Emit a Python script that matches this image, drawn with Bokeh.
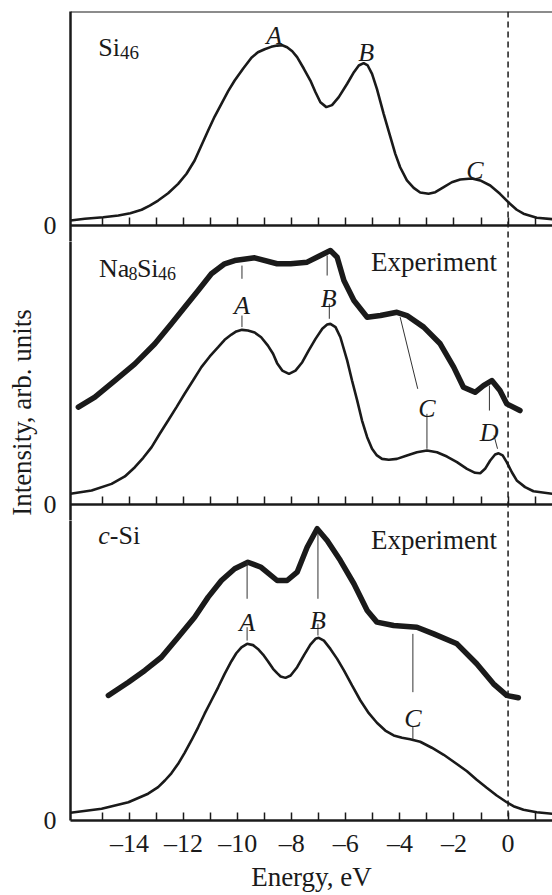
import math
from bokeh.plotting import figure
from bokeh.layouts import column, row
from bokeh.models import Range1d, FixedTicker, Span, Label, LinearAxis
from bokeh.embed import file_html
from bokeh.resources import INLINE
from bokeh.core.properties import value

# ---------------- data (energy in eV, intensity in arb. units) ----------------
si46_calc_E = [-16.18, -15.65, -14.97, -14.41, -13.97, -13.55, -13.25, -12.94, -12.57, -12.20,
               -11.89, -11.59, -11.34, -11.09, -10.85, -10.60, -10.35, -10.11, -9.80, -9.49,
               -9.25, -9.00, -8.76, -8.54, -8.35, -8.17, -7.98, -7.80, -7.55, -7.31, -7.12,
               -6.94, -6.72, -6.51, -6.26, -5.95, -5.70, -5.52, -5.34, -5.19, -5.03, -4.85,
               -4.60, -4.35, -4.17, -3.99, -3.74, -3.49, -3.25, -2.94, -2.69, -2.38, -2.08,
               -1.77, -1.34, -1.03, -0.66, -0.30, 0.07, 0.32, 0.57, 1.06, 1.65]
si46_calc_I = [0.028, 0.037, 0.046, 0.055, 0.068, 0.087, 0.110, 0.138, 0.178, 0.230,
               0.286, 0.359, 0.442, 0.525, 0.602, 0.672, 0.742, 0.801, 0.866, 0.927,
               0.957, 0.974, 0.987, 0.994, 0.996, 0.985, 0.963, 0.930, 0.866, 0.801, 0.736,
               0.681, 0.654, 0.665, 0.709, 0.783, 0.847, 0.884, 0.897, 0.884, 0.838, 0.755,
               0.617, 0.488, 0.396, 0.322, 0.249, 0.208, 0.182, 0.175, 0.184, 0.212, 0.239,
               0.254, 0.260, 0.249, 0.221, 0.175, 0.120, 0.087, 0.065, 0.043, 0.035]

na_calc_E = [-16.18, -15.40, -14.66, -14.17, -13.80, -13.49, -13.18, -12.88, -12.57, -12.26,
             -11.96, -11.65, -11.34, -11.03, -10.72, -10.48, -10.23, -10.05, -9.84, -9.62,
             -9.37, -9.13, -8.88, -8.69, -8.54, -8.35, -8.10, -7.86, -7.61, -7.37, -7.12,
             -6.87, -6.69, -6.57, -6.38, -6.20, -5.95, -5.77, -5.58, -5.40, -5.21, -5.03,
             -4.85, -4.66, -4.41, -4.11, -3.74, -3.37, -3.00, -2.63, -2.26, -1.89, -1.52,
             -1.22, -1.03, -0.85, -0.66, -0.48, -0.35, -0.20, -0.05, 0.14, 0.32, 0.63,
             0.94, 1.65]
na_calc_I = [0.059, 0.077, 0.114, 0.155, 0.206, 0.258, 0.317, 0.391, 0.464, 0.538,
             0.612, 0.685, 0.759, 0.818, 0.869, 0.910, 0.939, 0.956, 0.965, 0.961,
             0.950, 0.924, 0.878, 0.833, 0.781, 0.740, 0.722, 0.740, 0.786, 0.851, 0.915,
             0.971, 0.994, 0.998, 0.980, 0.924, 0.796, 0.685, 0.575, 0.464, 0.372, 0.308,
             0.271, 0.252, 0.247, 0.252, 0.271, 0.289, 0.298, 0.289, 0.265, 0.234, 0.197,
             0.175, 0.173, 0.197, 0.243, 0.276, 0.283, 0.271, 0.234, 0.178, 0.133, 0.096,
             0.073, 0.059]
na_exp_E = [-15.89, -15.28, -14.54, -13.80, -13.06, -12.45, -11.96, -11.46, -10.97, -10.48,
            -10.11, -9.37, -8.54, -8.04, -7.43, -6.94, -6.57, -6.32, -6.07, -5.70, -5.21,
            -4.72, -4.11, -3.74, -3.12, -2.51, -2.01, -1.65, -1.22, -0.91, -0.60, -0.30,
            -0.05, 0.44]
na_exp_I = [0.538, 0.593, 0.685, 0.777, 0.888, 0.998, 1.090, 1.182, 1.275, 1.330,
            1.348, 1.363, 1.330, 1.330, 1.339, 1.376, 1.403, 1.366, 1.238, 1.127, 1.035,
            1.044, 1.062, 1.044, 0.980, 0.888, 0.759, 0.648, 0.620, 0.657, 0.685, 0.630,
            0.556, 0.519]

csi_calc_E = [-16.18, -15.03, -14.04, -13.31, -12.94, -12.69, -12.45, -12.20, -11.96, -11.71,
              -11.46, -11.22, -10.97, -10.72, -10.48, -10.23, -10.05, -9.86, -9.65, -9.43,
              -9.25, -9.06, -8.88, -8.69, -8.54, -8.41, -8.23, -8.04, -7.80, -7.55, -7.31,
              -7.12, -7.00, -6.81, -6.57, -6.32, -6.07, -5.77, -5.46, -5.15, -4.85, -4.54,
              -4.23, -3.92, -3.62, -3.25, -2.82, -2.38, -1.96, -1.52, -1.16, -0.79, -0.42,
              -0.05, 0.20, 0.57, 1.06, 1.65]
csi_calc_I = [0.043, 0.065, 0.101, 0.148, 0.184, 0.221, 0.261, 0.313, 0.374, 0.442,
              0.515, 0.590, 0.663, 0.736, 0.810, 0.880, 0.924, 0.957, 0.976, 0.969,
              0.948, 0.917, 0.880, 0.838, 0.814, 0.796, 0.788, 0.801, 0.847, 0.912, 0.972,
              1.004, 1.009, 0.994, 0.948, 0.893, 0.829, 0.746, 0.663, 0.593, 0.540, 0.497,
              0.470, 0.457, 0.449, 0.435, 0.402, 0.363, 0.319, 0.272, 0.225, 0.181, 0.138,
              0.101, 0.079, 0.059, 0.046, 0.037]
csi_exp_E = [-14.78, -14.04, -13.43, -12.82, -12.20, -11.59, -11.09, -10.60, -10.11, -9.62,
             -9.13, -8.54, -8.17, -7.80, -7.43, -7.06, -6.69, -6.20, -5.70, -5.21, -4.85,
             -4.23, -3.37, -2.75, -1.89, -1.16, -0.54, -0.05, 0.38]
csi_exp_I = [0.691, 0.764, 0.829, 0.902, 1.013, 1.123, 1.234, 1.326, 1.391, 1.427,
             1.399, 1.326, 1.326, 1.372, 1.510, 1.612, 1.547, 1.436, 1.308, 1.160, 1.096,
             1.077, 1.068, 1.031, 0.976, 0.866, 0.755, 0.691, 0.678]

# peak labels (letter, energy, baseline intensity) and leader lines
p1_peaks = ["A", "B", "C"]
p1_peak_E = [-8.65, -5.25, -1.23]
p1_peak_I = [1.050, 0.957, 0.305]

p2_peaks = ["A", "B", "C", "D"]
p2_peak_E = [-9.84, -6.63, -3.00, -0.70]
p2_peak_I = [1.099, 1.137, 0.529, 0.399]
p2_lead_E0 = [-9.84, -9.84, -6.69, -6.61, -3.99, -3.00, -0.69, -0.52]
p2_lead_I0 = [1.320, 1.044, 1.376, 1.109, 1.035, 0.501, 0.657, 0.381]
p2_lead_E1 = [-9.84, -9.84, -6.69, -6.61, -3.34, -3.00, -0.69, -0.39]
p2_lead_I1 = [1.247, 0.980, 1.265, 1.026, 0.639, 0.308, 0.519, 0.308]

p3_peaks = ["A", "B", "C"]
p3_peak_E = [-9.65, -7.03, -3.52]
p3_peak_I = [1.095, 1.105, 0.562]
p3_lead_E0 = [-9.65, -9.65, -7.03, -7.03, -3.52, -3.52]
p3_lead_I0 = [1.427, 1.068, 1.586, 1.087, 1.031, 0.521]
p3_lead_E1 = [-9.65, -9.65, -7.03, -7.03, -3.52, -3.52]
p3_lead_I1 = [1.225, 0.994, 1.225, 1.022, 0.709, 0.451]

x_major_ticks = [-14, -12, -10, -8, -6, -4, -2, 0]
x_minor_ticks = [-15, -13, -11, -9, -7, -5, -3, -1, 1]
x_all_ticks = [-15, -14, -13, -12, -11, -10, -9, -8, -7, -6, -5, -4, -3, -2, -1, 0, 1]
x_tick_labels = {t: ("\u2013" + str(-t) if t < 0 else str(t)) for t in x_major_ticks}
y_axis_title = "Intensity, arb. units"

# ---------------- layout constants (pixels) ----------------
SERIF = "Liberation Serif"
INK = "#1a1a1a"
U = 181.0                 # pixels per intensity unit
TOTAL_W = 552
TOTAL_H = 895
LABEL_W = 40              # strip holding the vertical axis title
W = TOTAL_W - LABEL_W
LEFT = 69 - LABEL_W
TOP = 11
BELOW0 = 16               # frame extends this far under the zero line (panels 1-2)
P1_H = 214                # frame height above zero, panel 1
P2_H = 279                # distance between zero lines of panels 1 and 2
P3_H = 316                # distance between zero lines of panels 2 and 3
BOTTOM3 = 75
X_RANGE = Range1d(-16.18, -16.18 + (W - LEFT) / 27.1)


def base_panel(height, y0, y1, top_border, bottom_border, labelled):
    p = figure(width=W, height=height, x_range=X_RANGE, y_range=Range1d(y0, y1),
               output_backend="svg", toolbar_location=None,
               x_axis_type=None, y_axis_type=None,
               min_border_left=LEFT, min_border_right=0,
               min_border_top=top_border, min_border_bottom=bottom_border)
    p.title.visible = False
    p.outline_line_color = None
    p.background_fill_color = "white"
    p.border_fill_color = "white"

    if labelled:
        xa = LinearAxis(ticker=FixedTicker(ticks=x_major_ticks, minor_ticks=x_minor_ticks))
        xa.major_label_overrides = x_tick_labels
        xa.major_label_text_font = SERIF
        xa.major_label_text_font_size = "26px"
        xa.major_label_text_color = INK
        xa.major_label_standoff = 8
        xa.axis_label = "Energy, eV"
        xa.axis_label_text_font = SERIF
        xa.axis_label_text_font_style = "normal"
        xa.axis_label_text_font_size = "27px"
        xa.axis_label_text_color = INK
        xa.axis_label_standoff = 1
    else:
        xa = LinearAxis(ticker=FixedTicker(ticks=[], minor_ticks=x_all_ticks))
        xa.fixed_location = 0
        xa.major_label_standoff = 0
        xa.axis_label_standoff = 0
    xa.axis_line_width = 2.5
    xa.axis_line_color = INK
    xa.major_tick_in = 8
    xa.major_tick_out = 0
    xa.minor_tick_in = 8
    xa.minor_tick_out = 0
    xa.major_tick_line_width = 1.5
    xa.minor_tick_line_width = 1.5
    xa.major_tick_line_color = INK
    xa.minor_tick_line_color = INK
    p.add_layout(xa, "below")

    ya = LinearAxis(ticker=FixedTicker(ticks=[0], minor_ticks=[]))
    ya.axis_line_width = 2.5
    ya.axis_line_color = INK
    ya.major_tick_in = 0
    ya.major_tick_out = 0
    ya.major_label_text_font = SERIF
    ya.major_label_text_font_size = "26px"
    ya.major_label_text_color = INK
    ya.major_label_standoff = 14
    p.add_layout(ya, "left")

    p.add_layout(Span(location=0, dimension="height", line_color=INK,
                      line_width=1.5, line_dash="6 4"))
    return p


def add_peak_labels(p, letters, es, ys):
    for t, e, y in zip(letters, es, ys):
        p.add_layout(Label(x=e, y=y, text=t, text_font=SERIF, text_font_style="italic",
                           text_font_size="26px", text_align="center",
                           text_baseline="alphabetic", text_color=INK))


def add_text(p, x, y, parts):
    off = 0.0
    for txt, size, style, dy, w in parts:
        p.add_layout(Label(x=x, y=y, x_offset=off, y_offset=dy, text=txt, text_font=SERIF,
                           text_font_style=style, text_font_size=f"{size}px",
                           text_align="left", text_baseline="alphabetic",
                           text_color=INK))
        off += w


# ---------------- strip with the vertical axis title ----------------
lab = figure(width=LABEL_W, height=TOTAL_H, x_range=Range1d(0, LABEL_W),
             y_range=Range1d(0, TOTAL_H), output_backend="svg", toolbar_location=None,
             x_axis_type=None, y_axis_type=None, min_border=0)
lab.title.visible = False
lab.outline_line_color = None
lab.grid.visible = False
lab.text(x=[21], y=[TOTAL_H - 412], text=[y_axis_title], angle=math.pi / 2,
         text_font=value(SERIF), text_font_size="27px", text_color=INK,
         text_align="center", text_baseline="middle")

# ---------------- panel 1: Si46 ----------------
p1 = base_panel(TOP + P1_H + BELOW0, -BELOW0 / U, P1_H / U, TOP, 0, False)
p1.add_layout(Span(location=P1_H / U, dimension="width", line_color=INK, line_width=2))
p1.line(si46_calc_E, si46_calc_I, line_color=INK, line_width=2.6)
add_peak_labels(p1, p1_peaks, p1_peak_E, p1_peak_I)
add_text(p1, -15.15, 0.985, [("Si", 26, "normal", 0, 21.7), ("46", 19, "normal", -5, 0)])

# ---------------- panel 2: Na8Si46 ----------------
p2 = base_panel(P2_H, -BELOW0 / U, (P2_H - BELOW0) / U, 0, 0, False)
p2.line(na_exp_E, na_exp_I, line_color=INK, line_width=5.5, line_join="round",
        line_cap="round")
p2.line(na_calc_E, na_calc_I, line_color=INK, line_width=2.6)
p2.segment(p2_lead_E0, p2_lead_I0, p2_lead_E1, p2_lead_I1, line_color="#333333",
           line_width=1)
add_peak_labels(p2, p2_peaks, p2_peak_E, p2_peak_I)
add_text(p2, -15.13, 1.302, [("Na", 26, "normal", 0, 29.5), ("8", 18, "normal", -5, 8.5),
                             ("Si", 26, "normal", 0, 21.2), ("46", 18, "normal", -5, 0)])
add_text(p2, -5.07, 1.339, [("Experiment", 27, "normal", 0, 0)])

# ---------------- panel 3: c-Si ----------------
frame3 = P3_H - BELOW0
p3 = base_panel(frame3 + BOTTOM3, 0, frame3 / U, 0, BOTTOM3, True)
p3.line(csi_exp_E, csi_exp_I, line_color=INK, line_width=5.5, line_join="round",
        line_cap="round")
p3.line(csi_calc_E, csi_calc_I, line_color=INK, line_width=2.6)
p3.segment(p3_lead_E0, p3_lead_I0, p3_lead_E1, p3_lead_I1, line_color="#333333",
           line_width=1)
add_peak_labels(p3, p3_peaks, p3_peak_E, p3_peak_I)
add_text(p3, -15.15, 1.575, [("c", 26, "italic", 0, 11.5), ("-Si", 26, "normal", 0, 0)])
add_text(p3, -5.07, 1.547, [("Experiment", 27, "normal", 0, 0)])

layout = row(lab, column(p1, p2, p3, spacing=0), spacing=0)
open("out.html", "w").write(file_html(layout, INLINE))
